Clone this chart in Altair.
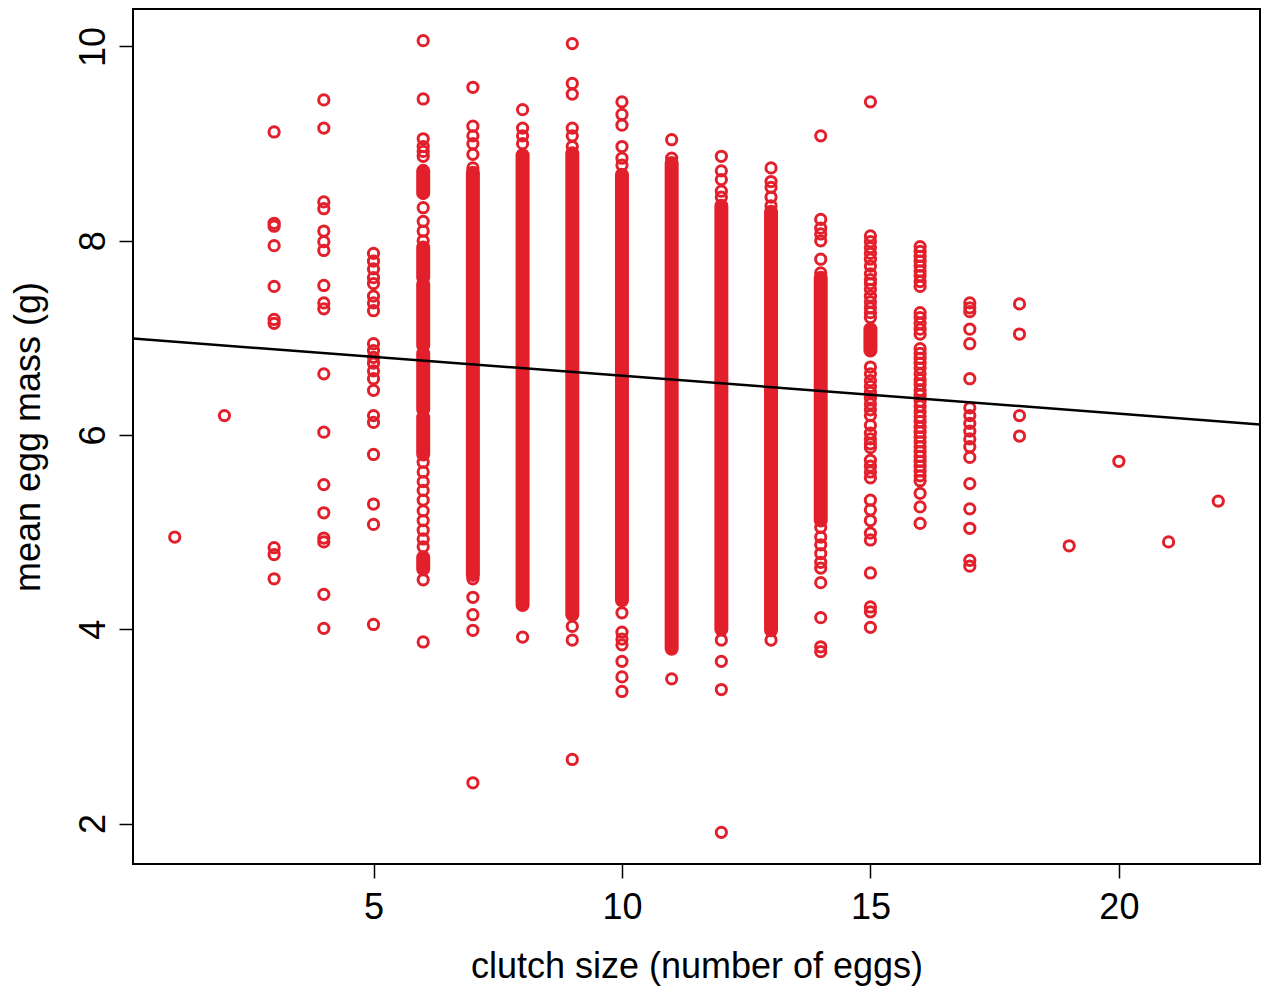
import altair as alt
import pandas as pd

# ---- individual (sparse) observations: mean egg mass (g) per clutch size ----
mass_01 = [4.95]
mass_02 = [6.20]
mass_03 = [9.12, 8.18, 8.15, 7.95, 7.53, 7.19, 7.15, 4.84, 4.77, 4.52]
mass_04 = [9.45, 9.16, 8.40, 8.33, 8.10, 7.99, 7.90, 7.54, 7.36, 7.30, 6.63,
           6.03, 5.49, 5.20, 4.94, 4.90, 4.36, 4.01]
mass_05 = [7.87, 7.79, 7.71, 7.62, 7.56, 7.43, 7.36, 7.28, 6.94, 6.87, 6.80,
           6.74, 6.66, 6.58, 6.46, 6.20, 6.13, 5.80, 5.29, 5.08, 4.05]
mass_06 = [10.06, 9.46, 9.05, 8.97, 8.92, 8.87, 8.34, 8.20, 8.10, 8.00, 5.72,
           5.62, 5.52, 5.43, 5.33, 5.22, 5.12, 5.02, 4.93, 4.85, 4.51, 3.87]
mass_07 = [9.58, 9.18, 9.08, 9.00, 8.89, 8.75, 4.52, 4.33, 4.15, 3.99, 2.42]
mass_08 = [9.35, 9.16, 9.08, 9.00, 8.62, 8.50, 3.92]
mass_09 = [10.03, 9.62, 9.51, 9.16, 9.08, 8.97, 4.03, 3.89, 2.66]
mass_10 = [9.43, 9.30, 9.19, 8.97, 8.85, 8.78, 4.17, 3.97, 3.90, 3.84, 3.67,
           3.51, 3.36]
mass_11 = [9.04, 8.85, 3.49]
mass_12 = [8.87, 8.72, 8.63, 8.51, 8.45, 3.89, 3.67, 3.38, 1.91]
mass_13 = [8.75, 8.61, 8.55, 8.45, 8.36, 3.89]
mass_14 = [9.08, 8.22, 8.13, 8.07, 8.00, 7.81, 7.67, 5.05, 4.95, 4.87, 4.78,
           4.69, 4.63, 4.48, 4.12, 3.82, 3.77]
mass_15 = [9.43, 8.05, 7.99, 7.93, 7.87, 7.81, 7.74, 7.66, 7.60, 7.56, 7.50,
           7.43, 7.37, 7.31, 7.26, 7.21, 6.70, 6.63, 6.56, 6.50, 6.44, 6.38,
           6.32, 6.26, 6.20, 6.10, 6.02, 5.96, 5.91, 5.87, 5.74, 5.68, 5.62,
           5.56, 5.33, 5.23, 5.12, 4.99, 4.92, 4.58, 4.23, 4.18, 4.02]
mass_16 = [7.94, 7.89, 7.84, 7.79, 7.74, 7.69, 7.64, 7.58, 7.53, 7.26, 7.21,
           7.15, 7.09, 7.04, 6.89, 6.84, 6.79, 6.74, 6.69, 6.63, 6.57, 6.52,
           6.46, 6.41, 6.35, 6.30, 6.24, 6.19, 6.14, 6.08, 6.03, 5.98, 5.93,
           5.88, 5.83, 5.78, 5.73, 5.68, 5.63, 5.58, 5.53, 5.40, 5.26, 5.09]
mass_17 = [7.36, 7.31, 7.27, 7.09, 6.94, 6.58, 6.28, 6.20, 6.12, 6.04, 5.96,
           5.88, 5.77, 5.50, 5.24, 5.04, 4.71, 4.65]
mass_18 = [7.35, 7.04, 6.20, 5.99]
mass_19 = [4.86]
mass_20 = [5.73]
mass_21 = [4.90]
mass_22 = [5.32]

# ---- runs of overlapping observations that print as solid columns ----
dense_clutch = [6, 6, 6, 6, 6, 6, 7, 8, 9, 10, 11, 12, 13, 14, 15]
dense_low = [8.49, 7.62, 6.92, 6.26, 5.80, 4.62, 4.56, 4.25, 4.15, 4.30, 3.80,
             4.00, 3.99, 5.12, 6.87]
dense_high = [8.72, 7.93, 7.55, 6.84, 6.18, 4.74, 8.70, 8.88, 8.90, 8.68, 8.80,
              8.36, 8.30, 7.62, 7.09]

# ---- fitted regression line ----
fit_intercept = 7.00
fit_slope = -0.039

x_domain = [0.16, 22.84]
y_domain = [1.584, 10.386]
x_ticks = [5, 10, 15, 20]
y_ticks = [2, 4, 6, 8, 10]

all_lists = [mass_01, mass_02, mass_03, mass_04, mass_05, mass_06, mass_07,
             mass_08, mass_09, mass_10, mass_11, mass_12, mass_13, mass_14,
             mass_15, mass_16, mass_17, mass_18, mass_19, mass_20, mass_21,
             mass_22]
rows = []
for i, lst in enumerate(all_lists, start=1):
    for v in lst:
        rows.append({"clutch": i, "mass": v})
points_df = pd.DataFrame(rows)
dense_df = pd.DataFrame({"clutch": dense_clutch, "lo": dense_low, "hi": dense_high})
fit_df = pd.DataFrame({
    "clutch": x_domain,
    "mass": [fit_intercept + fit_slope * x for x in x_domain],
})

RED = "#E2202C"
FONT = "Liberation Sans"

x_scale = alt.Scale(domain=x_domain, nice=False, zero=False)
y_scale = alt.Scale(domain=y_domain, nice=False, zero=False)

x_axis = alt.Axis(values=x_ticks, format="d", title="clutch size (number of eggs)",
                  grid=False, domain=False, tickSize=14, tickWidth=1.5,
                  tickColor="black", labelFont=FONT, labelFontSize=36,
                  labelColor="black", labelPadding=12, titleFont=FONT,
                  titleFontSize=36, titleFontWeight="normal", titleColor="black",
                  titlePadding=24, labelFlush=False)
y_axis = alt.Axis(values=y_ticks, format="d", title="mean egg mass (g)",
                  grid=False, domain=False, tickSize=14, tickWidth=1.5,
                  tickColor="black", labelFont=FONT, labelFontSize=36,
                  labelColor="black", labelAngle=270, labelAlign="center",
                  labelBaseline="bottom", labelPadding=7, titleFont=FONT,
                  titleFontSize=36, titleFontWeight="normal", titleColor="black",
                  titlePadding=28, labelFlush=False)

pts = alt.Chart(points_df).mark_point(
    shape="circle", filled=False, color=RED, size=105, strokeWidth=3, opacity=1
).encode(
    x=alt.X("clutch:Q", scale=x_scale, axis=x_axis),
    y=alt.Y("mass:Q", scale=y_scale, axis=y_axis),
)

dense = alt.Chart(dense_df).mark_rule(
    color=RED, strokeWidth=14, strokeCap="round"
).encode(
    x=alt.X("clutch:Q", scale=x_scale),
    y=alt.Y("lo:Q", scale=y_scale),
    y2="hi:Q",
)

fit = alt.Chart(fit_df).mark_line(color="black", strokeWidth=2.5, clip=True).encode(
    x=alt.X("clutch:Q", scale=x_scale),
    y=alt.Y("mass:Q", scale=y_scale),
)

chart = alt.layer(pts, dense, fit).properties(
    width=1127,
    height=855,
    background="white",
    autosize=alt.AutoSizeParams(type="none"),
    padding={"left": 125, "top": 1, "right": 1, "bottom": 126},
).configure_view(
    stroke="black", strokeWidth=2
)

chart.save("out.html", embed_options={"renderer": "svg", "actions": False})
